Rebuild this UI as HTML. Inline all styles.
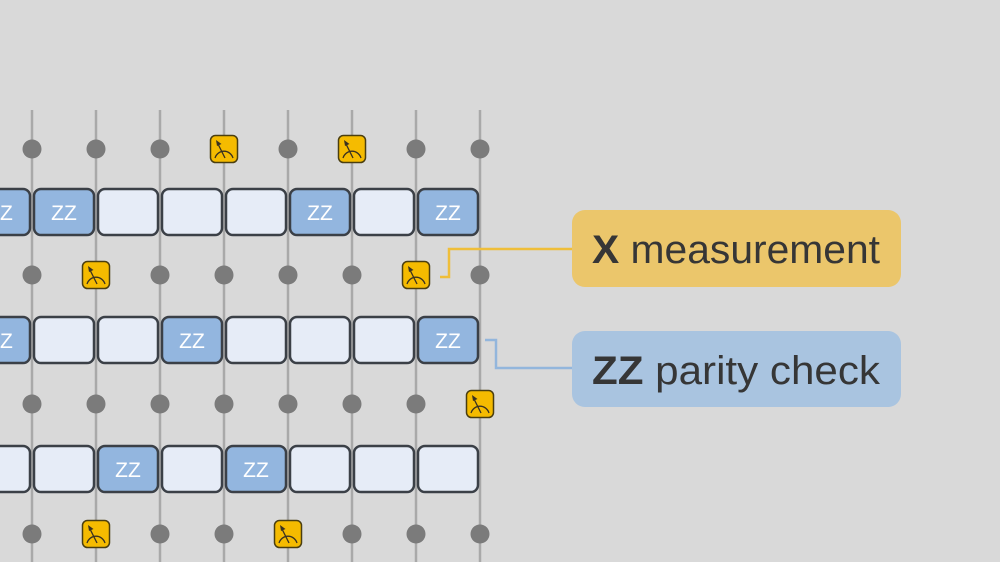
<!DOCTYPE html>
<html><head><meta charset="utf-8"><style>
html,body{margin:0;padding:0;background:#d9d9d9;}
svg{display:block;}
</style></head><body>
<svg width="1000" height="562" viewBox="0 0 1000 562" xmlns="http://www.w3.org/2000/svg">
<defs>
<g id="m">
<rect x="-13.5" y="-13.5" width="27" height="27" rx="5" fill="#f5bb00" stroke="#4a3e10" stroke-width="1.5"/>
<path d="M-9,9 A9.5,10 0 0 1 9,9" fill="none" stroke="#3a3220" stroke-width="1.3"/>
<line x1="1" y1="9" x2="-6" y2="-5" stroke="#3a3220" stroke-width="1.3"/>
<path d="M-8,-9 L-2.5,-5 L-7,-3 Z" fill="#3a3220"/>
</g>
<circle id="d" r="9.5" fill="#7b7b7b"/>
</defs>
<rect width="1000" height="562" fill="#d9d9d9"/>
<g stroke="#a9a9a9" stroke-width="2.5">
<line x1="32" y1="110" x2="32" y2="562"/><line x1="96" y1="110" x2="96" y2="562"/>
<line x1="160" y1="110" x2="160" y2="562"/><line x1="224" y1="110" x2="224" y2="562"/>
<line x1="288" y1="110" x2="288" y2="562"/><line x1="352" y1="110" x2="352" y2="562"/>
<line x1="416" y1="110" x2="416" y2="562"/><line x1="480" y1="110" x2="480" y2="562"/>
</g>
<use href="#d" x="32" y="149"/><use href="#d" x="96" y="149"/><use href="#d" x="160" y="149"/><use href="#m" x="224" y="149"/><use href="#d" x="288" y="149"/><use href="#m" x="352" y="149"/><use href="#d" x="416" y="149"/><use href="#d" x="480" y="149"/>
<use href="#d" x="32" y="275"/><use href="#m" x="96" y="275"/><use href="#d" x="160" y="275"/><use href="#d" x="224" y="275"/><use href="#d" x="288" y="275"/><use href="#d" x="352" y="275"/><use href="#m" x="416" y="275"/><use href="#d" x="480" y="275"/>
<use href="#d" x="32" y="404"/><use href="#d" x="96" y="404"/><use href="#d" x="160" y="404"/><use href="#d" x="224" y="404"/><use href="#d" x="288" y="404"/><use href="#d" x="352" y="404"/><use href="#d" x="416" y="404"/><use href="#m" x="480" y="404"/>
<use href="#d" x="32" y="534"/><use href="#m" x="96" y="534"/><use href="#d" x="160" y="534"/><use href="#d" x="224" y="534"/><use href="#m" x="288" y="534"/><use href="#d" x="352" y="534"/><use href="#d" x="416" y="534"/><use href="#d" x="480" y="534"/>
<g stroke="#3b4047" stroke-width="2.5" font-family="Liberation Sans, sans-serif" font-size="21" text-anchor="middle">
<rect x="-30" y="189" width="60" height="46" rx="7" fill="#93b6df"/>
<rect x="34" y="189" width="60" height="46" rx="7" fill="#93b6df"/>
<rect x="98" y="189" width="60" height="46" rx="7" fill="#e6ecf7"/>
<rect x="162" y="189" width="60" height="46" rx="7" fill="#e6ecf7"/>
<rect x="226" y="189" width="60" height="46" rx="7" fill="#e6ecf7"/>
<rect x="290" y="189" width="60" height="46" rx="7" fill="#93b6df"/>
<rect x="354" y="189" width="60" height="46" rx="7" fill="#e6ecf7"/>
<rect x="418" y="189" width="60" height="46" rx="7" fill="#93b6df"/>
<rect x="-30" y="317" width="60" height="46" rx="7" fill="#93b6df"/>
<rect x="34" y="317" width="60" height="46" rx="7" fill="#e6ecf7"/>
<rect x="98" y="317" width="60" height="46" rx="7" fill="#e6ecf7"/>
<rect x="162" y="317" width="60" height="46" rx="7" fill="#93b6df"/>
<rect x="226" y="317" width="60" height="46" rx="7" fill="#e6ecf7"/>
<rect x="290" y="317" width="60" height="46" rx="7" fill="#e6ecf7"/>
<rect x="354" y="317" width="60" height="46" rx="7" fill="#e6ecf7"/>
<rect x="418" y="317" width="60" height="46" rx="7" fill="#93b6df"/>
<rect x="-30" y="446" width="60" height="46" rx="7" fill="#e6ecf7"/>
<rect x="34" y="446" width="60" height="46" rx="7" fill="#e6ecf7"/>
<rect x="98" y="446" width="60" height="46" rx="7" fill="#93b6df"/>
<rect x="162" y="446" width="60" height="46" rx="7" fill="#e6ecf7"/>
<rect x="226" y="446" width="60" height="46" rx="7" fill="#93b6df"/>
<rect x="290" y="446" width="60" height="46" rx="7" fill="#e6ecf7"/>
<rect x="354" y="446" width="60" height="46" rx="7" fill="#e6ecf7"/>
<rect x="418" y="446" width="60" height="46" rx="7" fill="#e6ecf7"/>
<g stroke="none" fill="#ffffff">
<text x="0" y="220">ZZ</text><text x="64" y="220">ZZ</text><text x="320" y="220">ZZ</text><text x="448" y="220">ZZ</text>
<text x="0" y="348">ZZ</text><text x="192" y="348">ZZ</text><text x="448" y="348">ZZ</text>
<text x="128" y="477">ZZ</text><text x="256" y="477">ZZ</text>
</g>
</g>
<polyline points="440,277 449,277 449,249 573,249" fill="none" stroke="#efbe3a" stroke-width="2.5"/>
<polyline points="485,340 496,340 496,368 573,368" fill="none" stroke="#93b6dc" stroke-width="2.5"/>
<rect x="572" y="210" width="329" height="77" rx="13" fill="#ebc66b"/>
<rect x="572" y="331" width="329" height="76" rx="13" fill="#a9c4e0"/>
<g font-family="Liberation Sans, sans-serif" font-size="40" fill="#363636">
<text x="592" y="263" textLength="288" lengthAdjust="spacingAndGlyphs"><tspan font-weight="bold">X</tspan> measurement</text>
<text x="592" y="384" textLength="288" lengthAdjust="spacingAndGlyphs"><tspan font-weight="bold">ZZ</tspan> parity check</text>
</g>
</svg>
</body></html>
